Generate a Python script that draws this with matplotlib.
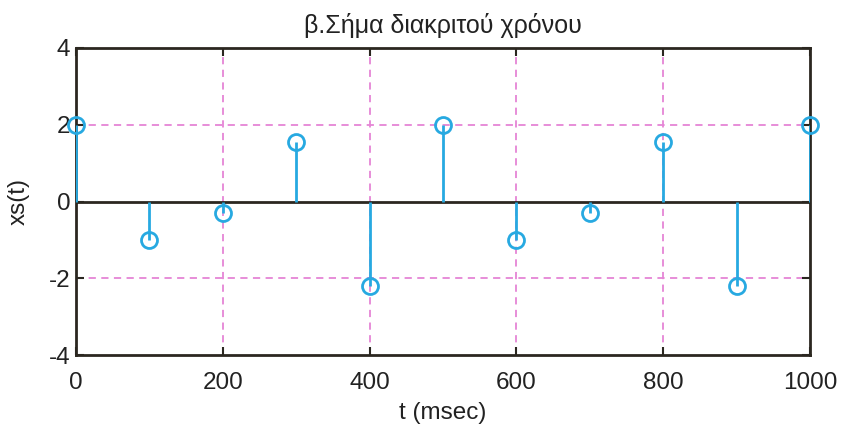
import matplotlib
matplotlib.use("Agg")
import matplotlib.pyplot as plt

t = [0, 100, 200, 300, 400, 500, 600, 700, 800, 900, 1000]
xs = [2.0, -1.0, -0.3, 1.55, -2.2, 2.0, -1.0, -0.3, 1.55, -2.2, 2.0]
xticks = [0, 200, 400, 600, 800, 1000]
yticks = [-4, -2, 0, 2, 4]

plt.rcParams['font.family'] = ["Liberation Sans", "DejaVu Sans"]
plt.rcParams['axes.unicode_minus'] = False

fig = plt.figure(figsize=(8.42, 4.28), dpi=100)
ax = fig.add_axes([76/842, 73/428, 734/842, 307/428])

stem_c = "#27a9e1"
grid_c = "#e585d6"
ink = "#2b2720"

for v in [200, 400, 600, 800]:
    ax.axvline(v, color=grid_c, ls=(0, (4, 3)), lw=1.3, zorder=0)
for v in [-2, 2]:
    ax.axhline(v, color=grid_c, ls=(0, (4, 3)), lw=1.3, zorder=0)

ax.axhline(0, color=ink, lw=2, zorder=1)
ml, sl, bl = ax.stem(t, xs, basefmt=" ")
plt.setp(sl, color=stem_c, lw=2, zorder=3)
plt.setp(ml, color=stem_c, marker='o', markersize=11.5, markerfacecolor='none',
         markeredgewidth=2, zorder=4, clip_on=False)

ax.set_xlim(0, 1000)
ax.set_ylim(-4, 4)
ax.set_xticks(xticks)
ax.set_yticks(yticks)
ax.tick_params(direction='in', top=True, right=True, length=6, width=1.5,
               labelsize=17.5, color=ink, labelcolor="#222222")
ax.tick_params(axis='x', pad=12)
ax.tick_params(axis='y', pad=4)
for s in ax.spines.values():
    s.set_linewidth(2)
    s.set_color(ink)

ax.set_title("β.Σήμα διακριτού χρόνου", fontsize=18, pad=11, color="#222222")
ax.set_xlabel("t (msec)", fontsize=17.5, color="#222222", labelpad=6)
ax.set_ylabel("xs(t)", fontsize=17.5, color="#222222", labelpad=14)

fig.savefig("out.png", dpi=100)
